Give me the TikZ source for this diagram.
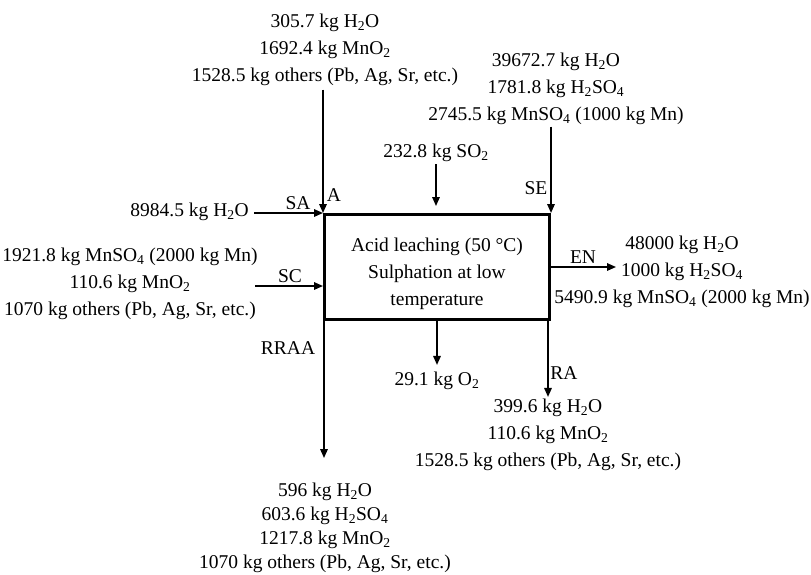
\documentclass[tikz,border=0pt]{standalone}
\usepackage{fontspec}
\setmainfont{Liberation Serif}
\usetikzlibrary{arrows.meta,calc}
\newcommand{\mysub}[1]{\textsubscript{#1}}
\begin{document}
\begin{tikzpicture}[x=1pt,y=-1pt,
  txt/.style={align=center,inner sep=2pt,font=\fontsize{19.5}{27}\selectfont},
  lbl/.style={inner sep=1pt,font=\fontsize{19.5}{24}\selectfont},
  arr/.style={line width=1.6pt,-{Triangle[length=9pt,width=7.5pt]}},
  boxst/.style={draw,line width=3pt,minimum width=225pt,minimum height=105pt,align=center,inner sep=0pt,font=\fontsize{19.5}{27}\selectfont}]
\useasboundingbox (0,0) rectangle (811,574);

\node[txt] (A) at (325,49.5) {305.7 kg H\mysub{2}O\\1692.4 kg MnO\mysub{2}\\1528.5 kg others (Pb, Ag, Sr, etc.)};
\node[txt] (SE) at (556,88.5) {39672.7 kg H\mysub{2}O\\1781.8 kg H\mysub{2}SO\mysub{4}\\2745.5 kg MnSO\mysub{4} (1000 kg Mn)};
\node[txt] (so2) at (436,153) {232.8 kg SO\mysub{2}};
\node[txt,anchor=east] (sa) at (251,212) {8984.5 kg H\mysub{2}O};
\node[txt] (sc) at (130,284) {1921.8 kg MnSO\mysub{4} (2000 kg Mn)\\110.6 kg MnO\mysub{2}\\1070 kg others (Pb, Ag, Sr, etc.)};
\node[boxst] (box) at (437,267) {\rule{0pt}{28pt}Acid leaching (50 °C)\\Sulphation at low\\temperature};
\node[txt] (en) at (682,272) {48000 kg H\mysub{2}O\\1000 kg H\mysub{2}SO\mysub{4}\\5490.9 kg MnSO\mysub{4} (2000 kg Mn)};
\node[txt] (o2) at (437,381) {29.1 kg O\mysub{2}};
\node[txt] (ra) at (548,435) {399.6 kg H\mysub{2}O\\110.6 kg MnO\mysub{2}\\1528.5 kg others (Pb, Ag, Sr, etc.)};
\node[txt,font=\fontsize{19.5}{24}\selectfont] (bot) at (325,528) {596 kg H\mysub{2}O\\603.6 kg H\mysub{2}SO\mysub{4}\\1217.8 kg MnO\mysub{2}\\1070 kg others (Pb, Ag, Sr, etc.)};

\node[lbl] (lA) at (334,195) {A};
\node[lbl] (lSA) at (298,203) {SA};
\node[lbl] (lSE) at (536,188) {SE};
\node[lbl] (lSC) at (290,276) {SC};
\node[lbl] (lEN) at (583,257) {EN};
\node[lbl] (lRRAA) at (288,348) {RRAA};
\node[lbl] (lRA) at (564,373) {RA};

\draw[arr,shorten <=2pt] (A.south -| box.north west) -- (box.north west);
\draw[arr] (SE.south -| box.north east) -- (box.north east);
\draw[arr,shorten >=7pt] (so2.south) -- (so2.south |- box.north);
\draw[arr,shorten <=3pt] (sa.east |- box.north west) -- (box.north west);
\coordinate (scin) at (255,286);
\draw[arr] (scin) -- (scin -| box.west);
\coordinate (enout) at (616,267);
\draw[arr] (enout -| box.east) -- (enout);
\draw[arr,shorten >=5pt] (o2.north |- box.south) -- (o2.north);
\draw[arr] (ra.north |- box.south) -- (ra.north);
\coordinate (rraaend) at (324,458);
\draw[arr] (rraaend |- box.south) -- (rraaend);
\end{tikzpicture}
\end{document}
